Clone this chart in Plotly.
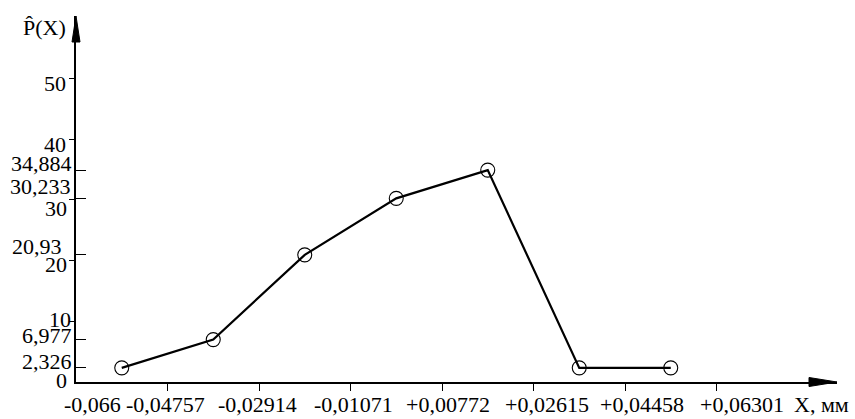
import plotly.graph_objects as go

# ---- data ----
bin_edges = [-0.066, -0.04757, -0.02914, -0.01071, 0.00772, 0.02615, 0.04458, 0.06301]
x_tick_labels = ["-0,066", "-0,04757", "-0,02914", "-0,01071", "+0,00772", "+0,02615", "+0,04458", "+0,06301"]
x_mid = [-0.056785, -0.038355, -0.019925, -0.001495, 0.016935, 0.035365, 0.053795]
p_values = [2.326, 6.977, 20.93, 30.233, 34.884, 2.326, 2.326]

y_round_values = [10, 20, 30, 40, 50]
y_data_ticks = [2.326, 6.977, 20.93, 30.233, 34.884]
y_label_values = [0, 2.326, 6.977, 10, 20.93, 20, 30.233, 30, 34.884, 40, 50]
y_label_texts = ["0", "2,326", "6,977", "10", "20,93", "20", "30,233", "30", "34,884", "40", "50"]

# ---- style / layout ----
W, H = 855, 419
ML, MR, MT, MB = 76, 18, 16, 37
PW, PH = W - ML - MR, H - MT - MB
X_RANGE = [-0.066, 0.08728]
Y_RANGE = [0, 60.25]
FONT = "Liberation Serif"
FS = 22

# per-label pixel nudges (hand-placed labels in the original)
x_label_shift = [16.8, -2, -2, 3.3, 5.8, 13.8, 16.5, 25.8]
y_label_right = [68.3, 73, 72.7, 71.7, 63, 68, 71.7, 68, 72.7, 66.7, 66.7]
y_label_dy = [2, 6, 4, 2, 8, -4, 12, -9, 7, -5, -5]

fig = go.Figure()
fig.add_trace(go.Scatter(
    x=x_mid, y=p_values, mode="lines+markers",
    line=dict(color="black", width=2.2),
    marker=dict(symbol="circle-open", size=14, color="black", line=dict(width=1.1, color="black")),
    showlegend=False, hoverinfo="skip", cliponaxis=False,
))

annotations = []
for v, t, s in zip(bin_edges, x_tick_labels, x_label_shift):
    annotations.append(dict(x=v, y=0, xref="x", yref="paper", text=t, showarrow=False,
                            xanchor="center", yanchor="middle", xshift=s, yshift=-22,
                            font=dict(family=FONT, size=FS, color="black")))
for v, t, r, dy in zip(y_label_values, y_label_texts, y_label_right, y_label_dy):
    annotations.append(dict(x=0, y=v, xref="paper", yref="y", text=t, showarrow=False,
                            xanchor="right", yanchor="middle", xshift=r - ML + 1, yshift=dy,
                            font=dict(family=FONT, size=FS, color="black")))
annotations.append(dict(x=1, y=0, xref="paper", yref="paper", text="X, мм", showarrow=False,
                        xanchor="center", yanchor="middle", xshift=821.7 - (ML + PW), yshift=-22,
                        font=dict(family=FONT, size=FS, color="black")))
annotations.append(dict(x=0, y=1, xref="paper", yref="paper", text="P\u0302(X)", showarrow=False,
                        xanchor="center", yanchor="middle", xshift=44.5 - ML, yshift=-11,
                        font=dict(family=FONT, size=FS, color="black")))

# arrow heads (pixel sizes converted to paper fractions)
ax_len, ax_half = 28 / PW, 4.5 / PH
ay_len, ay_half = 26 / PH, 4 / PW
shapes = [
    dict(type="path", xref="paper", yref="paper",
         path=f"M 1 0 L {1-ax_len} {ax_half} L {1-ax_len} {-ax_half} Z",
         fillcolor="black", line=dict(color="black", width=1)),
    dict(type="path", xref="paper", yref="paper",
         path=f"M 0 1 L {-ay_half} {1-ay_len} L {ay_half} {1-ay_len} Z",
         fillcolor="black", line=dict(color="black", width=1)),
]

fig.update_layout(
    width=W, height=H, margin=dict(l=ML, r=MR, t=MT, b=MB),
    paper_bgcolor="white", plot_bgcolor="white",
    font=dict(family=FONT, size=FS, color="black"),
    annotations=annotations, shapes=shapes, showlegend=False,
    xaxis=dict(range=X_RANGE, showgrid=False, zeroline=False, showline=True,
               linecolor="black", linewidth=1.5, ticks="outside", ticklen=7, tickwidth=1,
               tickcolor="black", tickmode="array", tickvals=bin_edges[1:],
               showticklabels=False, fixedrange=True),
    yaxis=dict(range=Y_RANGE, showgrid=False, zeroline=False, showline=True,
               linecolor="black", linewidth=2, ticks="inside", ticklen=10, tickwidth=1,
               tickcolor="black", tickmode="array", tickvals=y_data_ticks,
               showticklabels=False, fixedrange=True,
               minor=dict(tickmode="array", tickvals=y_round_values, ticks="outside",
                          ticklen=5, tickwidth=1, tickcolor="black", showgrid=False)),
)

fig.write_html("out.html", config={"displayModeBar": False},
               post_script="document.body.style.margin='0';document.body.style.padding='0';")
